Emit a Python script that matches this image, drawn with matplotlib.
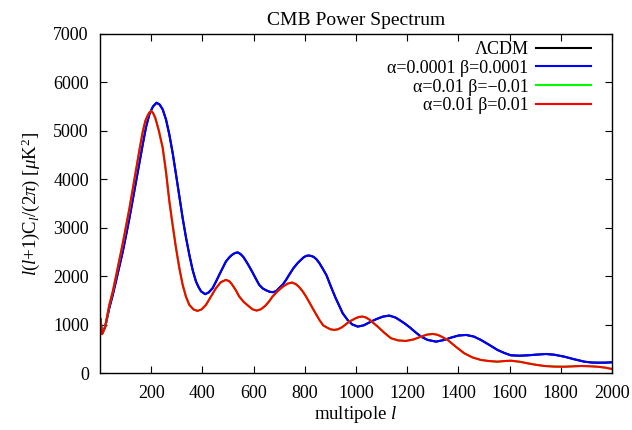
import numpy as np
import matplotlib
matplotlib.use('Agg')
from matplotlib import pyplot as plt

# curves (multipole l, D_l in muK^2)
l_base = [2, 8, 20, 36, 50, 62, 75, 89, 102, 115, 128, 141, 154, 167, 180,
          193, 207, 221, 233, 245, 258, 271, 284, 297, 310, 323, 336, 349,
          362, 375, 385, 395, 411, 425, 440, 453, 466, 479, 492, 505, 515,
          527, 538, 549, 560, 571, 583, 595, 608, 622, 636, 650, 664, 677,
          689, 700, 714, 727, 740, 756, 772, 785, 795, 805, 815, 825, 835,
          846, 857, 870, 885, 902, 920, 935, 948, 967, 985, 1007, 1030, 1059,
          1080, 1105, 1130, 1155, 1170, 1189, 1210, 1232, 1254, 1280, 1313,
          1345, 1371, 1400, 1430, 1460, 1488, 1520, 1553, 1580, 1605, 1640,
          1671, 1700, 1742, 1775, 1814, 1850, 1892, 1920, 1944, 1975, 2000]
d_base = [1120, 810, 950, 1340, 1620, 1890, 2190, 2510, 2850, 3200, 3580,
          3960, 4340, 4720, 5080, 5340, 5500, 5577, 5540, 5440, 5230, 4920,
          4540, 4100, 3650, 3200, 2800, 2445, 2130, 1894, 1780, 1690, 1633,
          1670, 1757, 1890, 2032, 2170, 2306, 2390, 2440, 2480, 2493, 2460,
          2400, 2310, 2204, 2090, 1960, 1825, 1750, 1710, 1680, 1674, 1700,
          1760, 1830, 1928, 2040, 2170, 2273, 2340, 2390, 2420, 2430, 2420,
          2400, 2350, 2273, 2160, 2020, 1790, 1560, 1390, 1241, 1103, 1010,
          965, 990, 1068, 1120, 1170, 1192, 1150, 1100, 1034, 950, 850, 758,
          690, 655, 690, 737, 780, 793, 760, 690, 590, 483, 420, 373, 365,
          373, 385, 400, 385, 345, 295, 242, 225, 221, 222, 229]

l_mod = [2, 8, 20, 36, 50, 62, 75, 89, 102, 115, 128, 141, 154, 167, 177,
         185, 192, 199, 207, 216, 230, 245, 258, 271, 284, 297, 310, 323,
         336, 349, 365, 381, 397, 414, 433, 453, 472, 492, 505, 515, 530, 544,
         562, 580, 596, 612, 628, 645, 660, 674, 695, 715, 733, 750, 765, 778,
         792, 805, 830, 857, 872, 885, 900, 915, 930, 945, 960, 974, 1000,
         1013, 1026, 1040, 1055, 1070, 1085, 1110, 1137, 1165, 1195, 1225,
         1254, 1278, 1300, 1315, 1328, 1358, 1390, 1423, 1455, 1488, 1520,
         1553, 1580, 1605, 1640, 1671, 1700, 1736, 1775, 1814, 1845, 1879,
         1910, 1944, 1975, 2000]
d_mod = [1120, 810, 960, 1400, 1690, 1990, 2320, 2680, 3040, 3400, 3800,
         4200, 4600, 4980, 5200, 5300, 5370, 5404, 5370, 5267, 5000, 4648,
         4150, 3546, 3050, 2583, 2170, 1825, 1580, 1412, 1320, 1288, 1320,
         1412, 1580, 1757, 1880, 1928, 1900, 1840, 1720, 1584, 1470, 1390,
         1320, 1295, 1320, 1390, 1480, 1584, 1700, 1790, 1850, 1873, 1840,
         1780, 1690, 1584, 1350, 1103, 990, 950, 910, 896, 910, 950, 1010,
         1068, 1140, 1165, 1171, 1150, 1100, 1030, 965, 840, 724, 680, 669,
         700, 758, 800, 813, 800, 775, 690, 550, 415, 330, 277, 255, 242, 255,
         262, 240, 208, 180, 153, 140, 138, 145, 153, 148, 138, 118, 91]

labels = ['\u039bCDM', '\u03b1=0.0001 \u03b2=0.0001',
          '\u03b1=0.01 \u03b2=\u22120.01', '\u03b1=0.01 \u03b2=0.01']
colors = ['#000000', '#0000ff', '#00ff00', '#ff0000']
xticks = list(range(200, 2001, 200))
yticks = list(range(0, 7001, 1000))

plt.rcParams['font.family'] = ['Liberation Serif', 'DejaVu Serif']
plt.rcParams['mathtext.fontset'] = 'custom'
plt.rcParams['mathtext.rm'] = 'Liberation Serif'
plt.rcParams['mathtext.it'] = 'Liberation Serif:italic'

fig = plt.figure(figsize=(6.32, 4.30), dpi=100)
ax = fig.add_axes([0.1582, 0.1316, 0.8101, 0.79])

series = [(l_base, d_base), (l_base, d_base), (l_mod, d_mod), (l_mod, d_mod)]
for (lx, dy), lab, col in zip(series, labels, colors):
    ax.plot(lx, dy, color=col, lw=1.5, label=lab, solid_joinstyle='round')

ax.set_xlim(0, 2000)
ax.set_ylim(0, 7000)
ax.set_xticks(xticks)
ax.set_yticks(yticks)
ax.tick_params(direction='in', length=5, width=0.8, top=True, right=True,
               labelsize=13, pad=8)
for s in ax.spines.values():
    s.set_linewidth(1.0)

ax.set_title('CMB Power Spectrum', fontsize=14, pad=6)
ax.set_xlabel(r'multipole $l$', fontsize=13.5, labelpad=2)
ax.set_ylabel(r'$l(l$+1)C$_l$/(2$\pi$) [$\mu$K$^2$]', fontsize=13.5,
              labelpad=8)

leg = ax.legend(loc='upper right', bbox_to_anchor=(0.9727, 1.0),
                frameon=False, markerfirst=False, fontsize=13,
                handlelength=3.05, handletextpad=0.4, labelspacing=0.1,
                borderaxespad=0.0)
for t in leg.get_texts():
    t.set_ha('right')

fig.savefig('out.png', dpi=100)
